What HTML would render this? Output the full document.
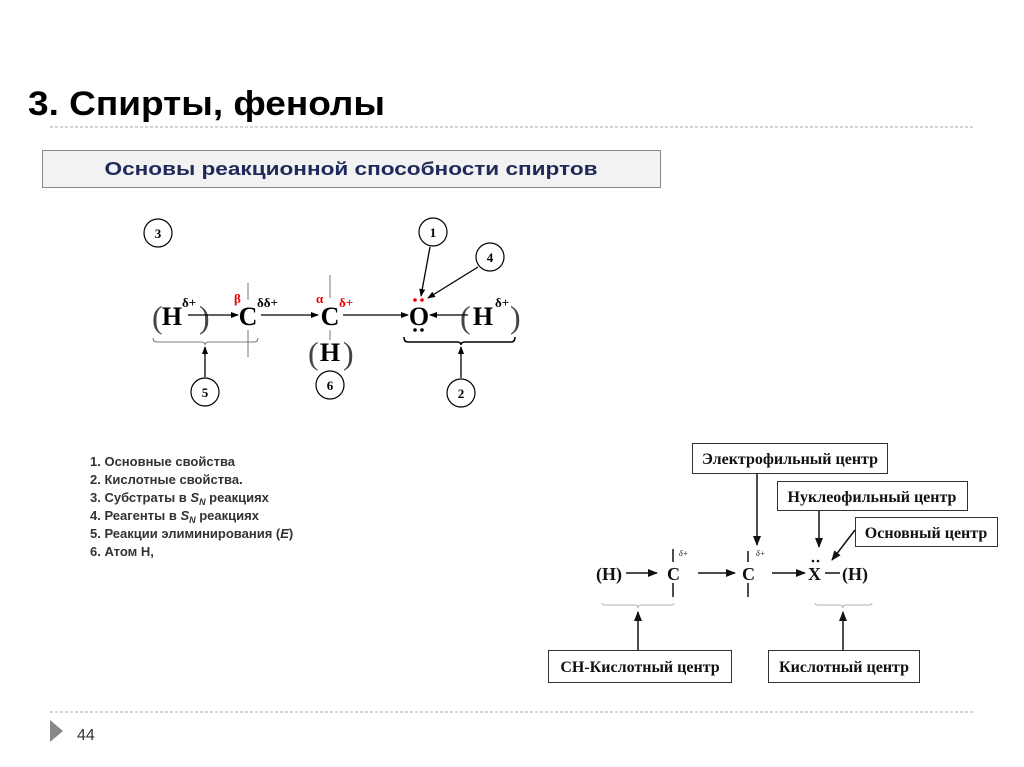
<!DOCTYPE html>
<html><head><meta charset="utf-8"><style>
html,body{margin:0;padding:0;background:#fff;width:1024px;height:767px;overflow:hidden}
svg{display:block}
</style></head><body>
<svg width="1024" height="767" viewBox="0 0 1024 767" xmlns="http://www.w3.org/2000/svg">
<defs>
<marker id="a" markerWidth="8" markerHeight="8" refX="7" refY="4" orient="auto" markerUnits="userSpaceOnUse"><path d="M0,1 L8,4 L0,7 Z" fill="#000"/></marker>
<marker id="b" markerWidth="10" markerHeight="10" refX="9" refY="5" orient="auto" markerUnits="userSpaceOnUse"><path d="M0,1 L10,5 L0,9 Z" fill="#111"/></marker>
</defs>
<text x="28" y="115" font-family="Liberation Sans, sans-serif" font-weight="bold" font-size="34" textLength="357" lengthAdjust="spacingAndGlyphs" fill="#000">3. Спирты, фенолы</text>
<line x1="50" y1="127" x2="975" y2="127" stroke="#aaa" stroke-dasharray="3,2"/>
<rect x="42.5" y="150.5" width="618" height="37" fill="#f2f2f2" stroke="#888"/>
<text x="351" y="175" text-anchor="middle" font-family="Liberation Sans, sans-serif" font-weight="bold" font-size="18" textLength="493" lengthAdjust="spacingAndGlyphs" fill="#1f2a5a">Основы реакционной способности спиртов</text>

<g font-family="Liberation Serif, serif" font-weight="bold" fill="#000" stroke="none">
<g fill="none" stroke="#000" stroke-width="1.2">
<circle cx="158" cy="233" r="14"/><circle cx="433" cy="232" r="14"/><circle cx="490" cy="257" r="14"/>
<circle cx="205" cy="392" r="14"/><circle cx="330" cy="385" r="14"/><circle cx="461" cy="393" r="14"/>
</g>
<g font-size="13" text-anchor="middle">
<text x="158" y="238">3</text><text x="433" y="237">1</text><text x="490" y="262">4</text>
<text x="205" y="397">5</text><text x="330" y="390">6</text><text x="461" y="398">2</text>
</g>
<g font-size="26" text-anchor="middle">
<text x="172" y="325">H</text><text x="248" y="325">C</text><text x="330" y="325">C</text>
<text x="419" y="325">O</text><text x="483" y="325">H</text><text x="330" y="361">H</text>
</g>
<g font-size="13">
<text x="182" y="307">δ+</text><text x="257" y="307">δδ+</text><text x="495" y="307">δ+</text>
<text x="339" y="307" fill="#e00">δ+</text><text x="234" y="303" fill="#e00">β</text><text x="316" y="303" fill="#e00">α</text>
</g>
<g font-family="Liberation Serif, serif" font-weight="normal" font-size="32" fill="#444">
<text x="152" y="328">(</text><text x="199" y="328">)</text><text x="460" y="328">(</text><text x="510" y="328">)</text>
<text x="308" y="364">(</text><text x="343" y="364">)</text>
</g>
<circle cx="415" cy="300" r="1.8" fill="#e00"/><circle cx="422" cy="300" r="1.8" fill="#e00"/>
<circle cx="415" cy="330" r="1.8"/><circle cx="422" cy="330" r="1.8"/>
<g stroke="#000" stroke-width="1.3" fill="none">
<line x1="188" y1="315" x2="238" y2="315" marker-end="url(#a)"/>
<line x1="261" y1="315" x2="318" y2="315" marker-end="url(#a)"/>
<line x1="343" y1="315" x2="408" y2="315" marker-end="url(#a)"/>
<line x1="468" y1="315" x2="430" y2="315" marker-end="url(#a)"/>
<line x1="430" y1="247" x2="421" y2="296" marker-end="url(#a)"/>
<line x1="478" y1="267" x2="428" y2="298" marker-end="url(#a)"/>
<line x1="205" y1="377" x2="205" y2="347" marker-end="url(#a)"/>
<line x1="461" y1="378" x2="461" y2="347" marker-end="url(#a)"/>
</g>
<g stroke="#555" stroke-width="0.8" fill="none">
<line x1="248" y1="283" x2="248" y2="300"/><line x1="248" y1="330" x2="248" y2="357"/>
<line x1="330" y1="275" x2="330" y2="298"/><line x1="330" y1="330" x2="330" y2="340"/>
<path d="M153,338 q0,4 4,4 L201,342 q4,0 4,3 q0,-3 4,-3 L254,342 q4,0 4,-4"/>
</g>
<path d="M404,337 q0,5 4,5 L457,342 q4,0 4,3 q0,-3 4,-3 L511,342 q4,0 4,-5" stroke="#000" stroke-width="1.5" fill="none"/>
</g>

<g font-family="Liberation Sans, sans-serif" font-weight="bold" font-size="13" fill="#333">
<text x="90" y="466">1. Основные свойства</text>
<text x="90" y="484">2. Кислотные свойства.</text>
<text x="90" y="502">3. Субстраты в <tspan font-style="italic">S</tspan><tspan font-size="9" font-style="italic" dy="3">N</tspan><tspan dy="-3"> реакциях</tspan></text>
<text x="90" y="520">4. Реагенты в <tspan font-style="italic">S</tspan><tspan font-size="9" font-style="italic" dy="3">N</tspan><tspan dy="-3"> реакциях</tspan></text>
<text x="90" y="538">5. Реакции элиминирования (<tspan font-style="italic">E</tspan>)</text>
<text x="90" y="556">6. Атом Н,</text>
</g>

<g font-family="Liberation Serif, serif" font-weight="bold" fill="#111">
<g fill="#fff" stroke="#333" stroke-width="1">
<rect x="692.5" y="443.5" width="195" height="30"/>
<rect x="777.5" y="481.5" width="190" height="29"/>
<rect x="855.5" y="517.5" width="142" height="29"/>
<rect x="548.5" y="650.5" width="183" height="32"/>
<rect x="768.5" y="650.5" width="151" height="32"/>
</g>
<g font-size="16">
<text x="790" y="464" text-anchor="middle">Электрофильный центр</text>
<text x="872" y="502" text-anchor="middle">Нуклеофильный центр</text>
<text x="926" y="538" text-anchor="middle">Основный центр</text>
<text x="640" y="672" text-anchor="middle">CH-Кислотный центр</text>
<text x="844" y="672" text-anchor="middle">Кислотный центр</text>
</g>
<g font-size="18">
<text x="596" y="580">(H)</text><text x="667" y="580">C</text><text x="742" y="580">C</text>
<text x="808" y="580">X</text><text x="842" y="580">(H)</text>
</g>
<g font-size="8" font-weight="normal" font-style="italic"><text x="679" y="556">δ+</text><text x="756" y="556">δ+</text></g>
<circle cx="813" cy="561" r="1.3"/><circle cx="818" cy="561" r="1.3"/>
<g stroke="#111" stroke-width="1.5" fill="none">
<line x1="626" y1="573" x2="657" y2="573" marker-end="url(#b)"/>
<line x1="698" y1="573" x2="735" y2="573" marker-end="url(#b)"/>
<line x1="772" y1="573" x2="805" y2="573" marker-end="url(#b)"/>
<line x1="825" y1="573" x2="840" y2="573"/>
<line x1="673" y1="549" x2="673" y2="562"/><line x1="673" y1="583" x2="673" y2="597"/>
<line x1="748" y1="551" x2="748" y2="562"/><line x1="748" y1="583" x2="748" y2="597"/>
<line x1="757" y1="474" x2="757" y2="545" marker-end="url(#b)"/>
<line x1="819" y1="511" x2="819" y2="547" marker-end="url(#b)"/>
<line x1="855" y1="530" x2="832" y2="560" marker-end="url(#b)"/>
<line x1="638" y1="650" x2="638" y2="612" marker-end="url(#b)"/>
<line x1="843" y1="650" x2="843" y2="612" marker-end="url(#b)"/>
</g>
<g stroke="#999" stroke-width="0.8" fill="none">
<path d="M602,603 q0,2 3,2 L635,605 q3,0 3,3 q0,-3 3,-3 L671,605 q3,0 3,-2"/>
<path d="M815,603 q0,2 3,2 L840,605 q3,0 3,3 q0,-3 3,-3 L869,605 q3,0 3,-2"/>
</g>
</g>

<line x1="50" y1="712" x2="975" y2="712" stroke="#aaa" stroke-dasharray="3,2"/>
<path d="M50,720 L63,731 L50,742 Z" fill="#888"/>
<text x="77" y="740" font-family="Liberation Sans, sans-serif" font-size="16" fill="#333">44</text>
</svg>
</body></html>
